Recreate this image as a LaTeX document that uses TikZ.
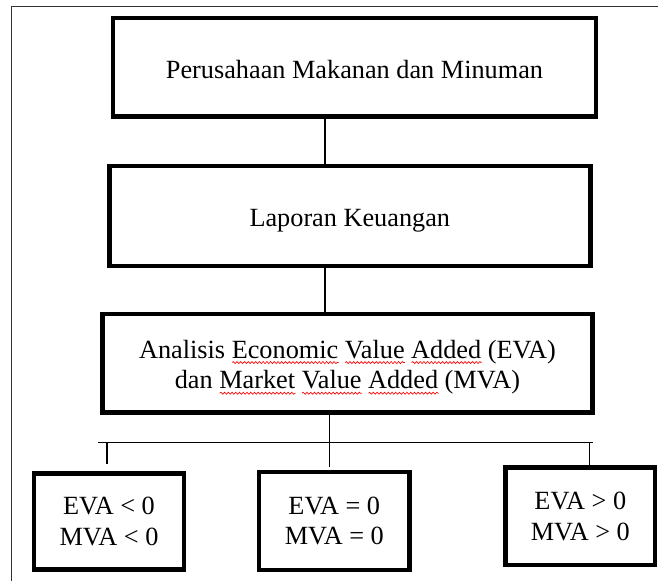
\documentclass[tikz,border=0pt]{standalone}
\usepackage{fontspec}
\setmainfont{Liberation Serif}
\usetikzlibrary{positioning,decorations.pathmorphing}

\newlength\wavelen
\newcommand\spellwave[1]{\settowidth\wavelen{#1}%
  \rlap{\tikz[baseline=0pt]\draw[red,line width=0.5pt,decorate,
    decoration={snake,amplitude=0.75pt,segment length=2.8pt}] (0pt,-3.2pt) -- (\wavelen,-3.2pt);}#1}

\begin{document}
\begin{tikzpicture}[x=0.75pt,y=-0.75pt,
  box/.style={draw,line width=3.4pt,inner sep=0pt,align=center,
              font=\fontsize{19.7pt}{23pt}\selectfont},
  oneline/.style={box,text height=16.4pt,text depth=0pt},
  link/.style={line width=1.1pt}]
 \useasboundingbox (0,0) rectangle (658,581);
 \draw[line width=0.9pt,black!80] (11.5,581) -- (11.5,6.5) -- (658,6.5);

 \node[oneline,name=Company, minimum width=362.25pt,minimum height=73.9pt] at (354.5,67.3) {Perusahaan Makanan dan Minuman};
 \node[oneline,name=Report,  minimum width=360.75pt,minimum height=75pt]   at (349.8,216)  {Laporan Keuangan};
 \node[box,name=Analysis,minimum width=367.5pt, minimum height=73.9pt] at (347.5,363.3)
   {\rule{0pt}{19.7pt}Analisis \spellwave{Economic} \spellwave{Value} \spellwave{Added} (EVA)\\
    dan \spellwave{Market} \spellwave{Value} \spellwave{Added} (MVA)};
 \node[box,name=Negative,minimum width=112.5pt, minimum height=72pt]   at (109,521.5)  {EVA < 0\\MVA < 0};
 \node[box,name=Neutral, minimum width=112.9pt, minimum height=73.5pt] at (334.3,521)  {EVA = 0\\MVA = 0};
 \node[box,name=Positive,minimum width=112.1pt, minimum height=73.1pt] at (580.3,516.3){EVA > 0\\MVA > 0};

 \coordinate (spine) at (325,0);
 \coordinate (barL)  at (98,442.3);
 \coordinate (barR)  at (593,442.3);
 \coordinate (split) at (329.5,467);
 \coordinate (dropL) at (107,464.3);
 \coordinate (dropR) at (589.5,442.3);

 \draw[link] (spine |- Company.south) -- (spine |- Report.north);
 \draw[link] (spine |- Report.south)  -- (spine |- Analysis.north);
 \draw[link] (split |- Analysis.south) -- (split);
 \draw[link] (barL) -- (barR);
 \draw[link] (dropL |- barL) -- (dropL);
 \draw[link] (dropR) -- (dropR |- Positive.north);
\end{tikzpicture}
\end{document}
